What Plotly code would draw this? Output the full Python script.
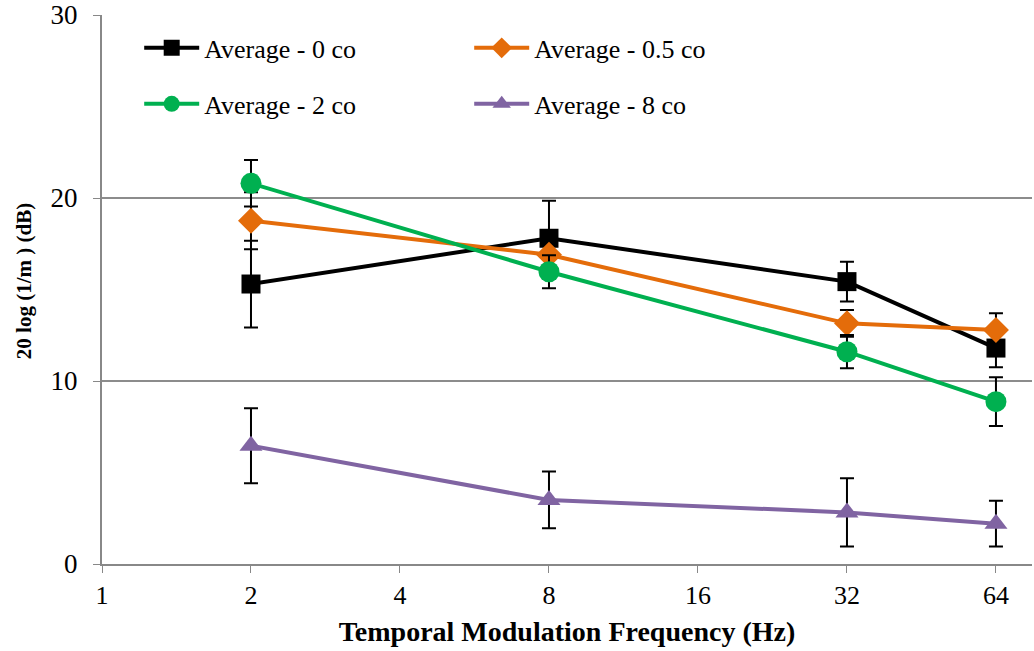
import plotly.graph_objects as go

freqs = [2, 8, 32, 64]

avg_0co = [15.3, 17.8, 15.43, 11.8]
err_0co = [2.37, 2.05, 1.08, 1.05]

avg_05co = [18.76, 16.9, 13.15, 12.79]
err_05co = [1.56, 1.0, 0.73, 0.91]

avg_2co = [20.8, 15.97, 11.6, 8.87]
err_2co = [1.27, 0.9, 0.91, 1.33]

avg_8co = [6.46, 3.5, 2.82, 2.2]
err_8co = [2.05, 1.55, 1.87, 1.25]

x_ticks = [1, 2, 4, 8, 16, 32, 64]
y_ticks = [0, 10, 20, 30]

FONT = "Liberation Serif, Times New Roman, serif"

series = [
    ("Average - 0 co", avg_0co, err_0co, "#000000", "square", 19, "legend"),
    ("Average - 0.5 co", avg_05co, err_05co, "#E46C0A", "diamond", 20, "legend"),
    ("Average - 2 co", avg_2co, err_2co, "#00B050", "circle", 21, "legend2"),
    ("Average - 8 co", avg_8co, err_8co, "#8064A2", "triangle-up", 20, "legend2"),
]

fig = go.Figure()
for name, vals, errs, color, symbol, size, leg in series:
    fig.add_trace(go.Scatter(
        x=freqs, y=vals, name=name, mode="lines+markers",
        line=dict(color=color, width=4),
        marker=dict(symbol=symbol, size=size, color=color),
        error_y=dict(type="data", array=errs, visible=True,
                     color="#000000", thickness=2, width=7),
        legend=leg,
    ))

legend_common = dict(
    orientation="h", xanchor="left", yanchor="middle",
    font=dict(family=FONT, size=26, color="#000000"),
    bgcolor="rgba(0,0,0,0)", entrywidth=260, entrywidthmode="pixels",
    itemwidth=55,
)

fig.update_layout(
    width=1034, height=651,
    margin=dict(l=102, r=2, t=15, b=87),
    plot_bgcolor="white", paper_bgcolor="white",
    font=dict(family=FONT, size=26, color="#000000"),
    xaxis=dict(
        type="log", range=[0, 1.879], automargin=False,
        tickvals=x_ticks, ticktext=[str(v) for v in x_ticks],
        ticks="outside", ticklen=7, tickcolor="#888888",
        showline=True, linecolor="#888888", linewidth=2,
        showgrid=False, zeroline=False,
        tickfont=dict(family=FONT, size=26),
        title=dict(text="<b>Temporal Modulation Frequency (Hz)</b>",
                   font=dict(family=FONT, size=28), standoff=12),
    ),
    yaxis=dict(
        range=[0, 30], tickvals=y_ticks, automargin=False,
        ticks="outside", ticklen=7, tickcolor="#888888",
        showline=True, linecolor="#888888", linewidth=2,
        showgrid=True, gridcolor="#8c8c8c", gridwidth=1.5,
        zeroline=False, ticklabelstandoff=10,
        tickfont=dict(family=FONT, size=27),
    ),
    annotations=[dict(
        text="<b>20 log (1/m ) (dB)</b>", textangle=-90,
        xref="paper", yref="paper", x=-0.084, y=0.515,
        xanchor="center", yanchor="middle", showarrow=False,
        font=dict(family=FONT, size=21, color="#000000"),
    )],
    legend=dict(x=0.04, y=0.94, **legend_common),
    legend2=dict(x=0.04, y=0.838, **legend_common),
)

fig.write_html("out.html")
